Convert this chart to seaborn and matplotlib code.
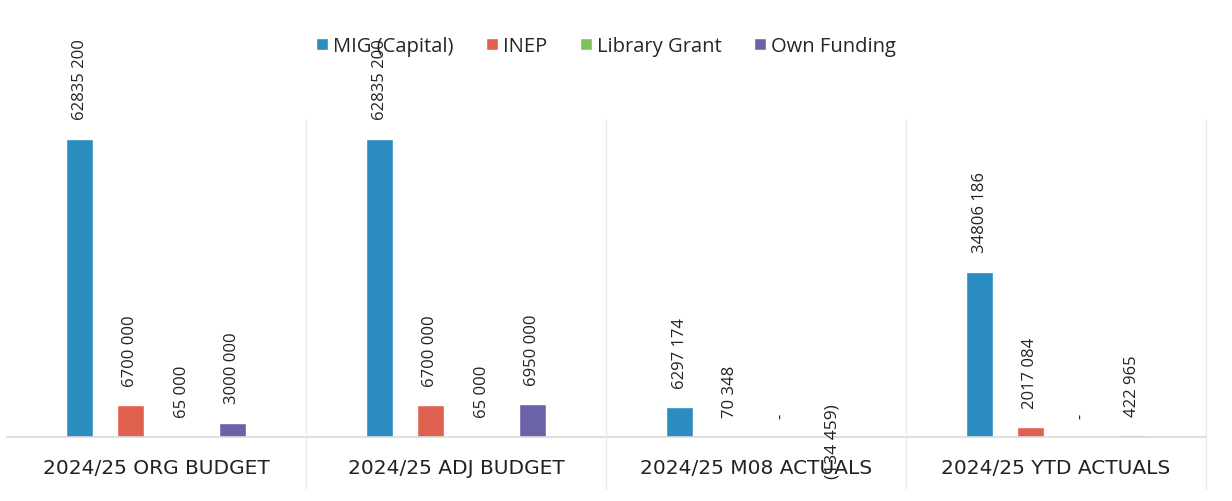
import numpy as np
import pandas as pd
import matplotlib
matplotlib.use("Agg")
import matplotlib.pyplot as plt
import seaborn as sns

# data
categories = ["2024/25 ORG BUDGET", "2024/25 ADJ BUDGET", "2024/25 M08 ACTUALS", "2024/25 YTD ACTUALS"]
series = ["MIG (Capital)", "INEP", "Library Grant", "Own Funding"]
mig = [62835200, 62835200, 6297174, 34806186]
inep = [6700000, 6700000, 70348, 2017084]
library = [65000, 65000, 0, 0]
own = [3000000, 6950000, -134459, 422965]
colors = ["#2a8cbf", "#e0604f", "#7dc15a", "#6a63a8"]

rows = []
for name, vals in zip(series, [mig, inep, library, own]):
    for cat, v in zip(categories, vals):
        rows.append({"category": cat, "series": name, "value": v})
df = pd.DataFrame(rows)


# excel style number: only last thousands group split, negatives in brackets, zero as dash
def fmt(v):
    if v == 0:
        return "-"
    a = abs(int(v))
    s = f"{a // 1000} {a % 1000:03d}" if a >= 1000 else str(a)
    return f"({s})" if v < 0 else s


sns.set_style("white")
plt.rcParams["font.family"] = ["Open Sans", "DejaVu Sans"]

W, H = 1232, 502
fig = plt.figure(figsize=(W / 100, H / 100), dpi=100)
# axes: x from 6 to 1206 px, y from 10 to 440 px (top-down)
ax = fig.add_axes([6 / W, (H - 440) / H, 1200 / W, 430 / H])

sns.barplot(data=df, x="category", y="value", hue="series", palette=colors,
            saturation=1, width=0.68, gap=0.47, errorbar=None, ax=ax)

px_per_unit = 4.745e-6
ax.set_ylim(-2 / px_per_unit, 428 / px_per_unit)
ax.set_xlim(-0.5, 3.5)

# value labels
for cont in ax.containers:
    for bar in cont:
        h = bar.get_height()
        xc = bar.get_x() + bar.get_width() / 2
        if h < 0:
            ax.annotate(fmt(h), (xc, 0), xytext=(0, 24), textcoords="offset points",
                        rotation=90, ha="center", va="top", fontsize=12.5, color="#222222",
                        annotation_clip=False)
        else:
            ax.annotate(fmt(h), (xc, h), xytext=(0, 14), textcoords="offset points",
                        rotation=90, ha="center", va="bottom", fontsize=12, color="#222222")

# baseline and faint category separators
ax.axhline(0, color="#d9d9d9", lw=1.2)
for xs in [0.5, 1.5, 2.5, 3.5]:
    ax.plot([xs, xs], [(440 - 120) / 430, -50 / 430], transform=ax.get_xaxis_transform(),
            color="#ebebeb", lw=1, clip_on=False)

sns.despine(ax=ax, left=True, bottom=True)
ax.set_yticks([])
ax.set_xlabel("")
ax.set_ylabel("")
ax.tick_params(axis="x", length=0, pad=14)
for lab in ax.get_xticklabels():
    lab.set_fontfamily("DejaVu Sans")
    lab.set_fontsize(14.5)
    lab.set_color("#222222")

handles, labels = ax.get_legend_handles_labels()
ax.get_legend().remove()
fig.legend(handles, labels, loc="center", bbox_to_anchor=(606 / W, 1 - 47 / H), ncol=4,
           frameon=False, fontsize=14.5, handlelength=0.6, handleheight=0.6,
           handletextpad=0.25, columnspacing=1.6)

fig.savefig("out.png", dpi=100)
